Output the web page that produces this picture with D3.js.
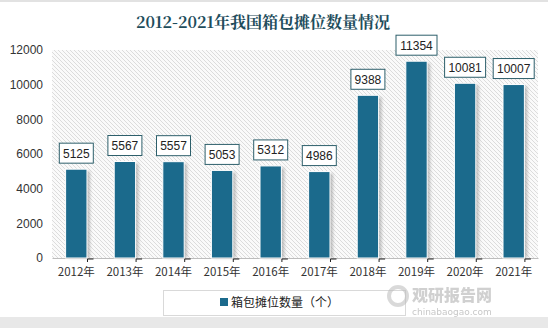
<!DOCTYPE html>
<html><head><meta charset="utf-8">
<script src="https://cdn.jsdelivr.net/npm/d3@7"></script>
<style>body{margin:0;background:#fff}svg{display:block}</style>
</head><body>
<script>
const categories = ["2012年","2013年","2014年","2015年","2016年","2017年","2018年","2019年","2020年","2021年"];
const values = [5125,5567,5557,5053,5312,4986,9388,11354,10081,10007];
const yTicks = [0,2000,4000,6000,8000,10000,12000];
const seriesName = "箱包摊位数量（个）";
const title = "2012-2021年我国箱包摊位数量情况";

const W = 548, H = 328;
const svg = d3.select("body").append("svg").attr("width", W).attr("height", H);
const defs = svg.append("defs");
const pat = defs.append("pattern").attr("id","hatch").attr("patternUnits","userSpaceOnUse")
  .attr("width",4).attr("height",4);
pat.append("rect").attr("width",4).attr("height",4).attr("fill","#fafafa");
pat.append("path").attr("d","M-1,-1 L5,5 M-1,3 L1,5 M3,-1 L5,1").attr("stroke","#d4d4d4").attr("stroke-width",0.8);
const f = defs.append("filter").attr("id","sh").attr("x","-50%").attr("y","-10%").attr("width","200%").attr("height","120%");
f.append("feGaussianBlur").attr("stdDeviation",1.5);

// frame strips
svg.append("rect").attr("x",0).attr("y",0).attr("width",W).attr("height",2).attr("fill","#e2e2e2");
svg.append("rect").attr("x",0).attr("y",317).attr("width",W).attr("height",11).attr("fill","#e8e8e8");

const L = 52, R = 538, T = 50, B = 258;
const x = d3.scaleBand().domain(categories).range([L,R]).paddingInner(0.56).paddingOuter(0.28);
const y = d3.scaleLinear().domain([0,12000]).range([B,T]);

svg.append("rect").attr("x",L).attr("y",T).attr("width",R-L).attr("height",B-T).attr("fill","url(#hatch)");

svg.append("text").attr("x",263).attr("y",28).attr("text-anchor","middle")
  .attr("font-family","'Noto Serif CJK SC','Noto Sans CJK SC',serif").attr("font-weight","bold")
  .attr("font-size",16).attr("fill","#1e4d5c").text(title);

// y axis
const ya = svg.append("g").attr("transform",`translate(${L},0)`)
  .call(d3.axisLeft(y).tickValues(yTicks).tickFormat(d3.format("d")).tickSize(0).tickPadding(9));
ya.select(".domain").remove();
ya.selectAll("text").attr("font-family","'Liberation Sans',Arial,sans-serif").attr("font-size",12).attr("fill","#333");

// x axis
const xa = svg.append("g").attr("transform",`translate(0,${B})`)
  .call(d3.axisBottom(x).tickSize(0).tickPadding(10));
xa.select(".domain").attr("stroke","#bdbdbd");
xa.selectAll("text").attr("font-family","'Noto Sans CJK SC',sans-serif").attr("font-size",11.5).attr("fill","#333");

// shadows
svg.append("g").selectAll("rect").data(values).join("rect")
  .attr("x",(d,i)=>x(categories[i])+3).attr("y",d=>y(d)+2)
  .attr("width",x.bandwidth()).attr("height",d=>B-y(d)-2)
  .attr("fill","#9a9a9a").attr("opacity",0.6).attr("filter","url(#sh)");
// bars
svg.append("g").selectAll("rect").data(values).join("rect")
  .attr("x",(d,i)=>x(categories[i])).attr("y",d=>y(d))
  .attr("width",x.bandwidth()).attr("height",d=>B-y(d))
  .attr("fill","#1b6a8c").attr("stroke","#fff").attr("stroke-width",1);

// small tick marks below axis at bar right edges
svg.append("g").selectAll("path").data(categories).join("path")
  .attr("d",c=>{const xx=x(c)+x.bandwidth()+0.5;return `M${xx},${B+4}V${B+1}H${xx+6}`;})
  .attr("stroke","#222").attr("fill","none").attr("stroke-width",1);

// labels
const lg = svg.append("g").selectAll("g").data(values).join("g")
  .attr("transform",(d,i)=>`translate(${x(categories[i])+x.bandwidth()/2},${y(d)-6})`);
lg.append("rect").attr("x",d=>-(String(d).length*7+6)/2).attr("y",-20)
  .attr("width",d=>String(d).length*7+6).attr("height",20)
  .attr("fill","#fff").attr("stroke","#2d5f6b").attr("stroke-width",1);
lg.append("text").attr("y",-5.5).attr("text-anchor","middle")
  .attr("font-family","'Liberation Sans',Arial,sans-serif").attr("font-size",12).attr("fill","#222")
  .text(d=>d);

// legend
svg.append("rect").attr("x",163.5).attr("y",290.5).attr("width",242).attr("height",25)
  .attr("fill","#fff").attr("stroke","#d9d9d9");
svg.append("rect").attr("x",220).attr("y",298).attr("width",8).attr("height",8).attr("fill","#1b6a8c");
svg.append("text").attr("x",231).attr("y",307).attr("font-family","'Noto Sans CJK SC',sans-serif")
  .attr("font-size",12).attr("fill","#222").text(seriesName);

// watermark
const wm = svg.append("g").attr("opacity",0.55);
wm.append("circle").attr("cx",398).attr("cy",296).attr("r",9).attr("fill","none").attr("stroke","#bbb").attr("stroke-width",4);
wm.append("text").attr("x",412).attr("y",301).attr("font-family","'Noto Sans CJK SC',sans-serif").attr("font-weight","900")
  .attr("font-size",16).attr("fill","#aaa").text("观研报告网");
wm.append("text").attr("x",412).attr("y",315).attr("font-family","'DejaVu Sans',sans-serif")
  .attr("font-size",9).attr("fill","#999").text("chinabaogao.com");
</script>
</body></html>
